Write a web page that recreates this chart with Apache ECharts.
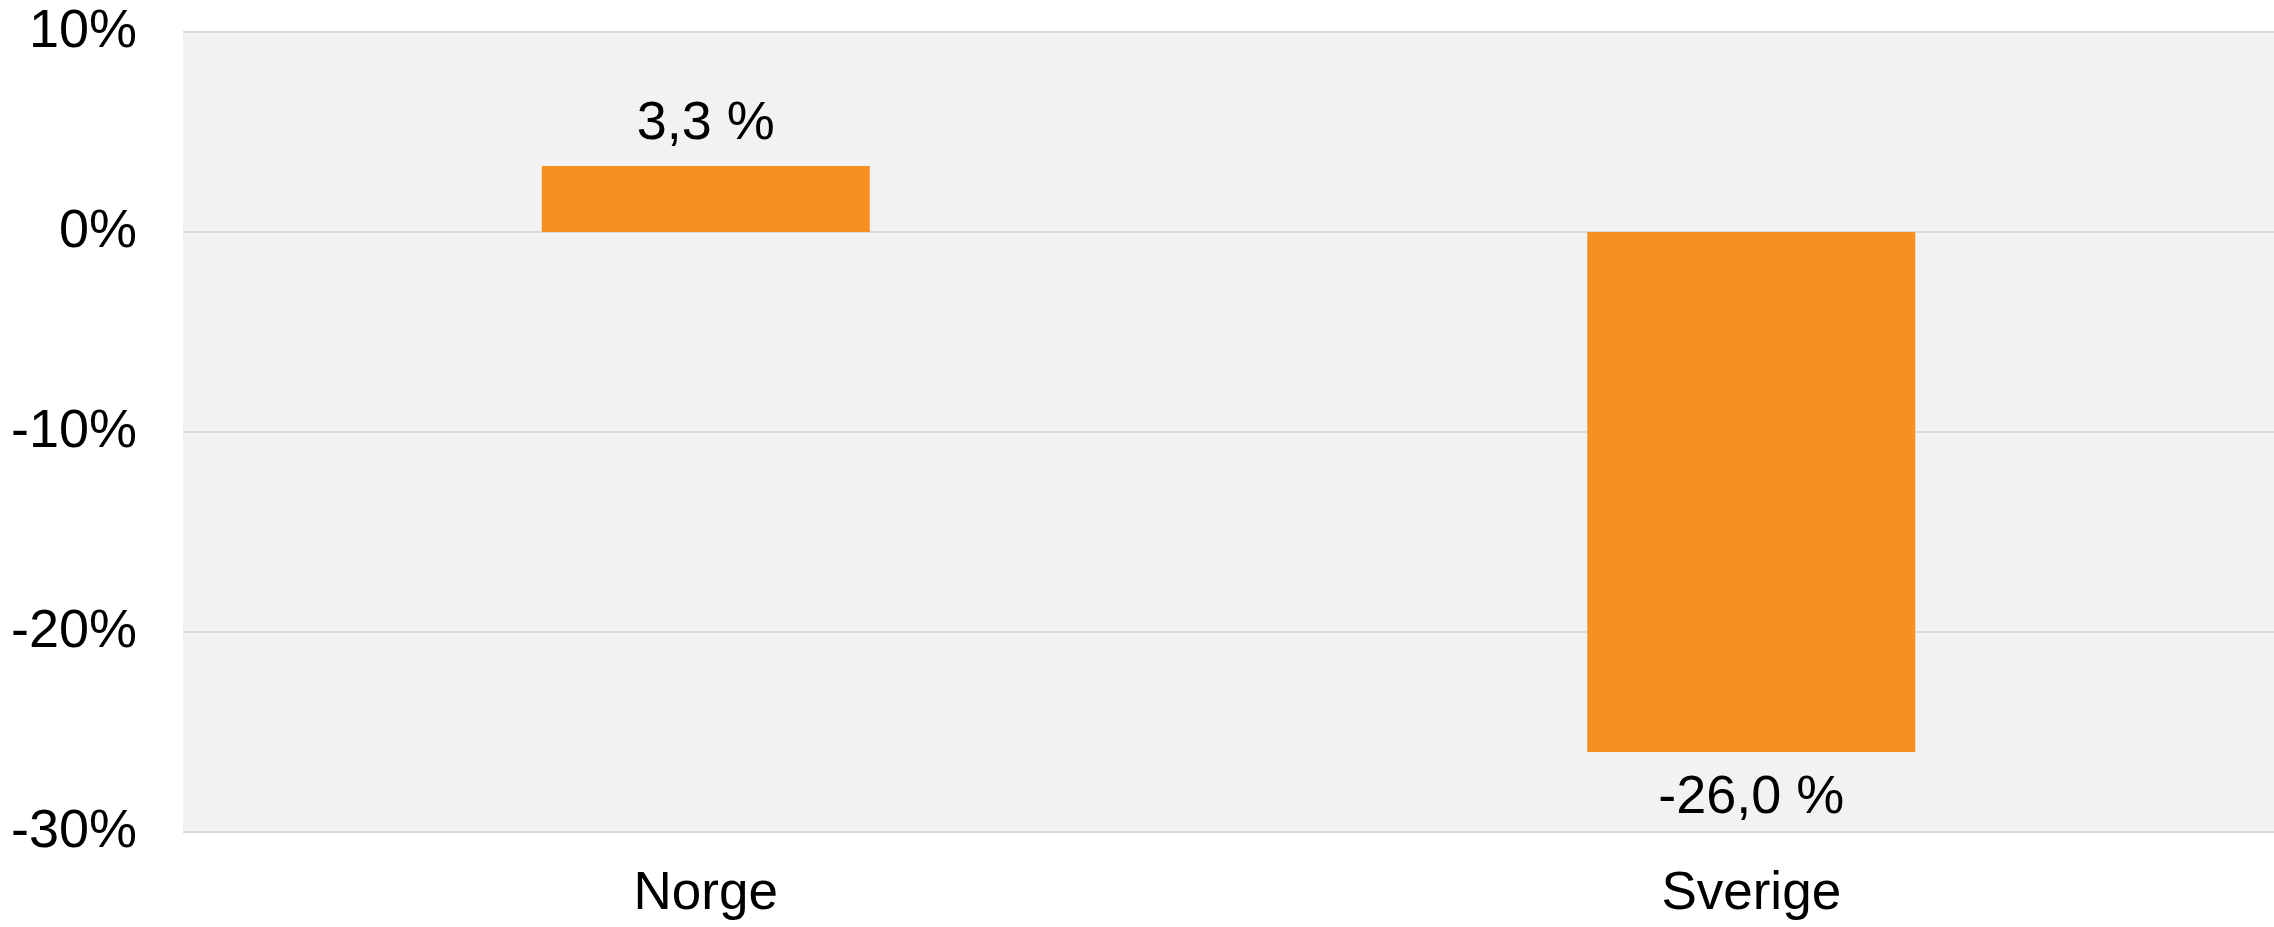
<!DOCTYPE html>
<html>
<head>
<meta charset="utf-8">
<script src="https://cdn.jsdelivr.net/npm/echarts@6/dist/echarts.min.js"></script>
<style>html,body{margin:0;padding:0;background:#fff}#c{width:2274px;height:927px}</style>
</head>
<body>
<div id="c"></div>
<script>
const categories = ['Norge', 'Sverige'];
const values = [3.3, -26.0];
const yTicks = { min: -30, max: 10, interval: 10 };

const chart = echarts.init(document.getElementById('c'), null, { renderer: 'canvas' });
const font = "'Liberation Sans', Arial, sans-serif";
const barData = values.map(v => ({
  value: v,
  label: { position: v >= 0 ? 'top' : 'bottom', distance: v >= 0 ? 15 : 19 }
}));
chart.setOption({
  animation: false,
  grid: { left: 183, right: 0, top: 32, bottom: 95, show: true, backgroundColor: '#f2f2f2', borderWidth: 0, containLabel: false },
  xAxis: {
    type: 'category', data: categories,
    axisLine: { show: false }, axisTick: { show: false },
    axisLabel: { color: '#000', fontSize: 53, fontFamily: font, margin: 36 }
  },
  yAxis: {
    type: 'value', min: yTicks.min, max: yTicks.max, interval: yTicks.interval,
    axisLine: { show: false }, axisTick: { show: false },
    splitLine: { lineStyle: { color: '#d9d9d9', width: 2 } },
    axisLabel: { color: '#000', fontSize: 54, fontFamily: font, margin: 46, formatter: v => v + '%' }
  },
  series: [{
    type: 'bar', data: barData, barWidth: 328,
    itemStyle: { color: '#f79020' },
    label: {
      show: true, color: '#000', fontSize: 54, fontFamily: font,
      formatter: p => p.value.toFixed(1).replace('.', ',') + ' %'
    }
  }]
});
</script>
</body>
</html>
